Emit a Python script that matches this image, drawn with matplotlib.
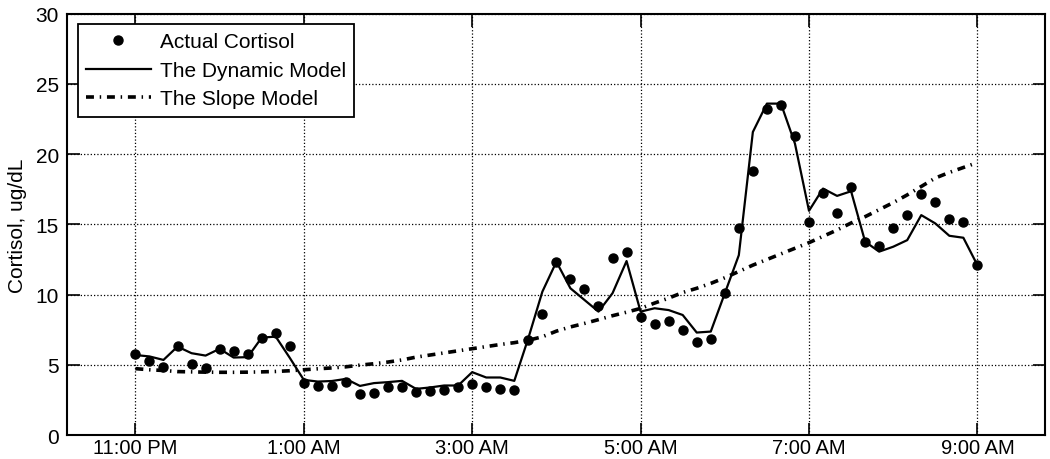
import numpy as np
import matplotlib
matplotlib.use("Agg")
from matplotlib import pyplot as plt

# samples every 10 minutes, 11:00 PM (hour 23) to 9:00 AM (hour 33)
minutes = np.arange(0, 610, 10)

actual = [5.76, 5.24, 4.86, 6.35, 5.09, 4.76, 6.14, 6.0, 5.76, 6.9, 7.25, 6.35,
          3.74, 3.5, 3.5, 3.77, 2.91, 3.03, 3.39, 3.39, 3.06, 3.15, 3.2, 3.39,
          3.62, 3.39, 3.29, 3.18, 6.78, 8.62, 12.34, 11.09, 10.4, 9.19, 12.58, 13.0,
          8.39, 7.91, 8.15, 7.48, 6.66, 6.82, 10.09, 14.76, 18.81, 23.24, 23.48, 21.3,
          15.19, 17.27, 15.78, 17.67, 13.72, 13.46, 14.76, 15.66, 17.13, 16.56, 15.42, 15.19,
          12.1]

dynamic = [5.7, 5.6, 5.35, 6.3, 5.83, 5.66, 6.14, 5.52, 5.55, 6.94, 7.01, 5.5,
           3.93, 3.81, 3.85, 4.0, 3.5, 3.7, 3.77, 3.86, 3.29, 3.39, 3.53, 3.53,
           4.48, 4.1, 4.1, 3.86, 6.9, 10.21, 12.34, 10.45, 9.62, 8.79, 10.1, 12.39,
           8.79, 9.03, 8.9, 8.55, 7.3, 7.37, 10.09, 12.81, 21.58, 23.6, 23.6, 20.75,
           15.97, 17.55, 17.03, 17.36, 13.77, 13.06, 13.41, 13.88, 15.66, 15.07, 14.19, 14.05,
           12.1]

slope = [4.73, 4.65, 4.6, 4.52, 4.5, 4.48, 4.47, 4.47, 4.48, 4.5, 4.53, 4.58,
         4.65, 4.72, 4.78, 4.86, 4.98, 5.08, 5.2, 5.35, 5.55, 5.7, 5.85, 6.0,
         6.15, 6.3, 6.45, 6.58, 6.75, 7.0, 7.4, 7.7, 7.95, 8.22, 8.5, 8.75,
         9.02, 9.4, 9.75, 10.15, 10.45, 10.8, 11.2, 11.65, 12.1, 12.5, 12.9, 13.3,
         13.7, 14.15, 14.6, 15.1, 15.55, 16.05, 16.55, 17.1, 17.7, 18.3, 18.7, 19.05,
         19.4]

tick_hours = [23, 25, 27, 29, 31, 33]
tick_labels = ['11:00 PM', '1:00 AM', '3:00 AM', '5:00 AM', '7:00 AM', '9:00 AM']

plt.rcParams['font.family'] = ['Liberation Sans', 'DejaVu Sans']
plt.rcParams['font.size'] = 15

hours = 23 + minutes / 60.0

fig = plt.figure(figsize=(10.5, 4.6), dpi=100)
ax = fig.add_axes([0.064, 0.052, 0.931, 0.916])

ax.plot(hours, actual, 'o', color='k', markersize=6.5, label='Actual Cortisol')
ax.plot(hours, dynamic, '-', color='k', linewidth=1.6, label='The Dynamic Model')
ax.plot(hours, slope, color='k', linewidth=2.6, linestyle=(0, (2.2, 1.6, 0.4, 1.6)),
        label='The Slope Model')

ax.set_xlim(22.19, 33.8)
ax.set_ylim(0, 30)
ax.set_xticks(tick_hours)
ax.set_xticklabels(tick_labels, fontsize=14.5)
ax.set_yticks(np.arange(0, 31, 5))
ax.set_ylabel('Cortisol, ug/dL', labelpad=6)

ax.grid(True, color='k', linestyle=':', linewidth=0.9)
ax.tick_params(direction='in', length=9, width=1.2, top=True, right=True)
ax.tick_params(axis='x', pad=2)
ax.tick_params(axis='y', pad=6)
for s in ax.spines.values():
    s.set_linewidth(1.5)

leg = ax.legend(loc='upper left', numpoints=1, fancybox=False, framealpha=1,
                edgecolor='k', handlelength=3.1, handletextpad=0.45,
                labelspacing=0.45, borderpad=0.4, borderaxespad=0.5)
leg.get_frame().set_linewidth(1.3)

fig.savefig('out.png', dpi=100)
